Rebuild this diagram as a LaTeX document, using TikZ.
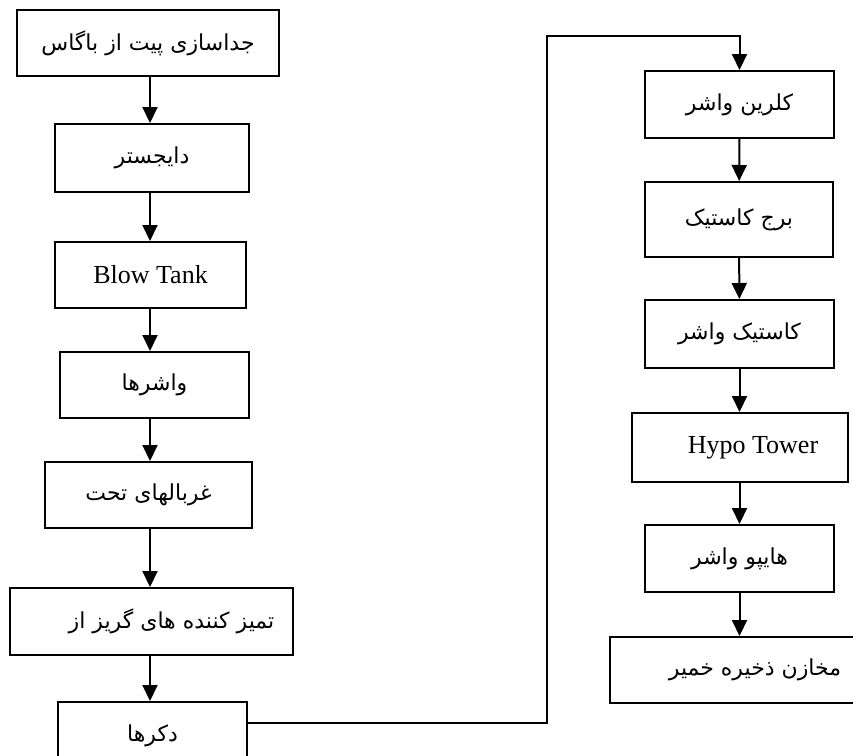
\documentclass[tikz,border=0pt]{standalone}
\usepackage{fontspec}
\setmainfont{Liberation Serif}
\newfontfamily\arabicfont[Script=Arabic]{DejaVu Sans}
\TeXXeTstate=1
\usepackage{tikz}
\usetikzlibrary{arrows.meta}
\usetikzlibrary{positioning,calc}
\newcommand{\pers}[1]{{\arabicfont\fontsize{22pt}{26pt}\selectfont\beginR #1\endR}}
\tikzset{
	stage/.style={
			draw,
			rectangle,
			line width=2pt,
			inner sep=0pt,
			minimum height=66pt,
			font=\fontsize{26pt}{30pt}\selectfont
		},
	flow/.style={
			line width=2pt,
			-{Triangle[length=16pt,width=15pt]}
		}
}

\begin{document}
\begin{tikzpicture}[x=1pt,y=-1pt]
			\useasboundingbox (0,0) rectangle (853,755);

			% left column
			\node[stage, minimum width=262pt] at (148,43) (sep) {\pers{جداسازی پیت از باگاس}};
			\node[stage, minimum width=194pt, minimum height=68pt] at (152,158) (dig) {\pers{دایجستر}};
			\node[stage, minimum width=191pt] at (150.5,275) (blow) {Blow Tank};
			\node[stage, minimum width=189pt] at (154.5,385) (wash) {\pers{واشرها}};
			\node[stage, minimum width=207pt] at (148.5,495) (screen) {\pers{غربالهای تحت}};
			\node[stage, minimum width=283pt, minimum height=67pt] at (151.5,621.5) (clean) {\hspace*{40pt}\pers{تمیز کننده های گریز از}};
			\node[stage, minimum width=189pt, minimum height=68pt] at (152.5,736) (decker) {\pers{دکرها}};

			% right column
			\node[stage, minimum width=189pt, minimum height=67pt] at (739.5,104.5) (clw) {\pers{کلرین واشر}};
			\node[stage, minimum width=188pt, minimum height=75pt] at (739,219.5) (ctower) {\pers{برج کاستیک}};
			\node[stage, minimum width=189pt, minimum height=68pt] at (739.5,334) (cwash) {\pers{کاستیک واشر}};
			\node[stage, minimum width=216pt, minimum height=69pt] at (740,447.5) (hypo) {\hspace*{26pt}Hypo Tower};
			\node[stage, minimum width=189pt, minimum height=67pt] at (739.5,558.5) (hwash) {\pers{هایپو واشر}};
			\node[stage, minimum width=290pt] at (755,670) (store) {\pers{مخازن ذخیره خمیر}};

			\draw[flow] (150,76) coordinate (s1) -- (s1 |- dig.north);
			\draw[flow] (dig.south -| s1) -- (s1 |- blow.north);
			\draw[flow] (blow.south -| s1) -- (s1 |- wash.north);
			\draw[flow] (wash.south -| s1) -- (s1 |- screen.north);
			\draw[flow] (screen.south -| s1) -- (s1 |- clean.north);
			\draw[flow] (clean.south -| s1) -- (s1 |- decker.north);

			\coordinate (bend) at (547,36);
			\draw[flow] ([yshift=13pt]decker.east) -| (bend) -| (clw.north);

			\draw[flow] (clw) -- (ctower);
			\draw[flow] (ctower) -- (cwash);
			\draw[flow] (cwash) -- (hypo.north -| cwash);
			\draw[flow] (hypo.south -| cwash) -- (hwash);
			\draw[flow] (hwash) -- (store.north -| hwash);
		\end{tikzpicture}
\end{document}
